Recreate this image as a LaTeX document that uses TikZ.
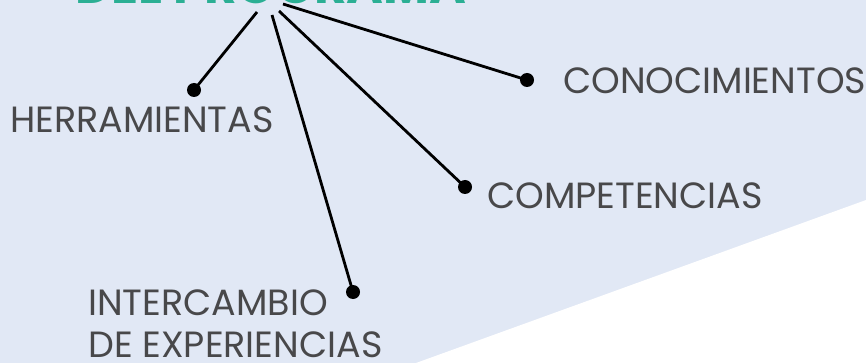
\documentclass[tikz,border=0pt]{standalone}
\usepackage{fontspec}
\setsansfont{Poppins}
\usepackage{tikz}
\usetikzlibrary{calc}
\definecolor{fondo}{RGB}{225,232,245}
\definecolor{verde}{RGB}{43,175,148}
\definecolor{texto}{RGB}{72,72,74}
\begin{document}
\begin{tikzpicture}[x=1pt,y=-1pt]
        \tikzset{punto/.style={circle, fill=black, inner sep=0pt, minimum size=14pt},
                 rama/.style={line width=2.8pt},
                 etiqueta/.style={anchor=base west, inner sep=0pt, text=texto,
                                  font=\sffamily\fontsize{36.5}{42}\selectfont}}
        \useasboundingbox (0,0) rectangle (866,363);
        \clip (0,0) rectangle (866,363);
        % \fill[fondo] (0,0) rectangle (866,363);

        \fill[fondo] (0,0) rectangle (866,363);
        \fill[white] (416,363) -- (866,200) -- (866,363) -- cycle;

        \node[anchor=base west, inner sep=0pt, text=verde,
              font=\sffamily\bfseries\fontsize{50}{56}\selectfont] (titulo) at (75,4) {DEL PROGRAMA};

        \coordinate (H1) at (257,12);
        \coordinate (H2) at (272,15);
        \coordinate (H3) at (279,11);
        \coordinate (H4) at (283,4);

        \node[punto] (herr)  at (194,90) {};
        \node[punto] (inter) at (353,292) {};
        \node[punto] (comp)  at (465,187) {};
        \node[punto] (cono)  at (527,80) {};

        \draw[rama] (H1) -- (herr.center);
        \draw[rama] (H2) -- (inter.center);
        \draw[rama] (H3) -- (comp.center);
        \draw[rama] (H4) -- (cono.center);

        \node[etiqueta] (therr)  at (10,133)  {HERRAMIENTAS};
        \node[etiqueta] (tcono)  at (563,94)  {CONOCIMIENTOS};
        \node[etiqueta] (tcomp)  at (487,209) {COMPETENCIAS};
        \node[etiqueta] (tinter) at (88,315)  {INTERCAMBIO};
        \node[etiqueta] (texp)   at (88,357)  {DE EXPERIENCIAS};
        
        
    \end{tikzpicture}
\end{document}
